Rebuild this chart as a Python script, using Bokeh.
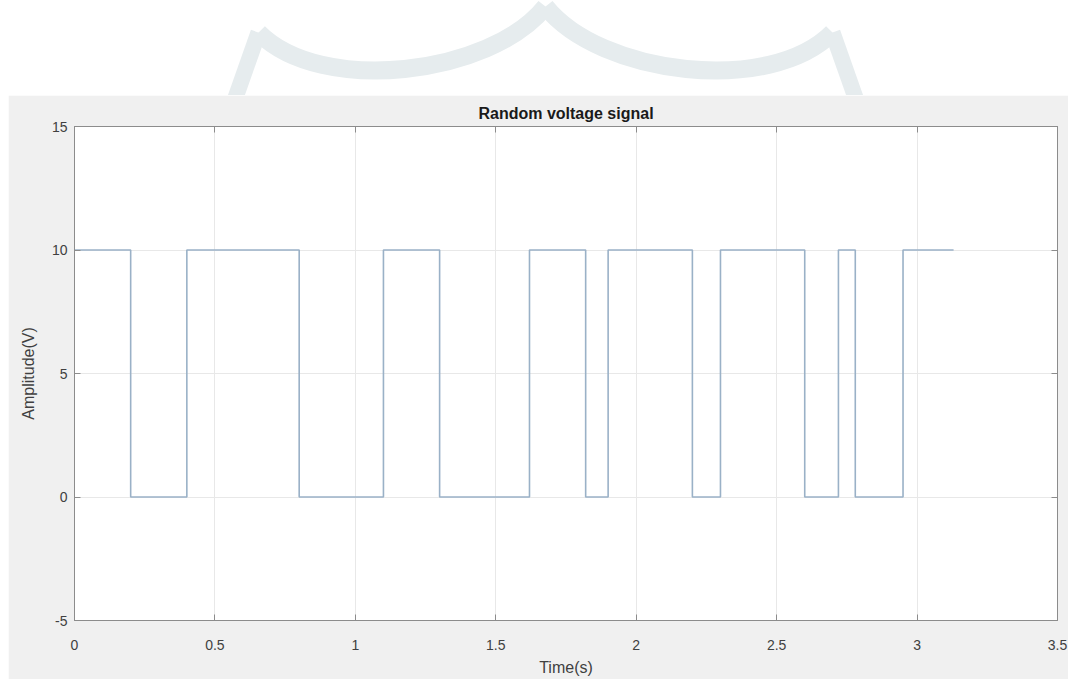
from bokeh.plotting import figure
from bokeh.models import Range1d, LinearAxis, FixedTicker, Spacer
from bokeh.layouts import column, row
from bokeh.embed import file_html
from bokeh.resources import INLINE

# Switching instants (s) and voltage level held after each instant (V)
switch_times = [0, 0.2, 0.4, 0.8, 1.1, 1.3, 1.62, 1.82, 1.9, 2.2, 2.3, 2.6, 2.72, 2.78, 2.95]
levels = [10, 0, 10, 0, 10, 0, 10, 0, 10, 0, 10, 0, 10, 0, 10]
end_time = 3.13

x_ticks = [0, 0.5, 1, 1.5, 2, 2.5, 3, 3.5]
y_ticks = [-5, 0, 5, 10, 15]

xs = list(switch_times) + [end_time]
ys = list(levels) + [levels[-1]]

FONT = "Liberation Sans"
AX = "#8c8c8c"
TXT = "#404040"

# --- decorative top strip (page background with faint watermark) ---
top = figure(width=1068, height=95, x_range=Range1d(0, 1068), y_range=Range1d(95, 0),
             toolbar_location=None, output_backend="svg", min_border=0)
top.axis.visible = False
top.grid.visible = False
top.outline_line_color = None
top.background_fill_color = "white"
top.border_fill_color = "white"
wm = "#e6ecee"
top.bezier(x0=[258, 545], y0=[32, 6], x1=[545, 832], y1=[6, 32],
           cx0=[320, 600], cy0=[95, 75], cx1=[490, 770], cy1=[75, 95],
           line_color=wm, line_width=18)
top.segment(x0=[258, 832], y0=[32, 32], x1=[234, 856], y1=[100, 100],
            line_color=wm, line_width=16)

# --- main axes ---
p = figure(width=1060, height=584, x_range=Range1d(0, 3.5), y_range=Range1d(-5, 15),
           toolbar_location=None, output_backend="svg",
           title="Random voltage signal",
           min_border_left=66, min_border_right=11, min_border_top=31, min_border_bottom=59)
p.background_fill_color = "white"
p.border_fill_color = "#f0f0f0"
p.outline_line_color = AX

p.title.align = "center"
p.title.text_font = FONT
p.title.text_font_size = "16px"
p.title.text_font_style = "bold"
p.title.text_color = "#1a1a1a"
p.title.standoff = 10

p.step(xs, ys, mode="after", line_color="#9ab1c7", line_width=1.6)

for ax in p.xaxis:
    ax.ticker = FixedTicker(ticks=x_ticks)
for ax in p.yaxis:
    ax.ticker = FixedTicker(ticks=y_ticks)
    ax.major_label_overrides = {-5: "-5"}

p.xaxis.axis_label = "Time(s)"
p.yaxis.axis_label = "Amplitude(V)"

for ax in p.xaxis + p.yaxis:
    ax.major_tick_in = 6
    ax.major_tick_out = 0
    ax.minor_tick_in = 0
    ax.minor_tick_out = 0
    ax.axis_line_color = AX
    ax.major_tick_line_color = AX
    ax.major_label_text_font = FONT
    ax.major_label_text_font_size = "14px"
    ax.major_label_text_color = TXT
    ax.axis_label_text_font = FONT
    ax.axis_label_text_font_size = "16px"
    ax.axis_label_text_font_style = "normal"
    ax.axis_label_text_color = TXT

p.xaxis.major_label_standoff = 19
p.xaxis.axis_label_standoff = 6
p.yaxis.major_label_standoff = 7
p.yaxis.axis_label_standoff = 12

for side in ("above", "right"):
    ax = LinearAxis(ticker=FixedTicker(ticks=x_ticks if side == "above" else y_ticks))
    ax.major_tick_in = 6
    ax.major_tick_out = 0
    ax.minor_tick_in = 0
    ax.minor_tick_out = 0
    ax.axis_line_color = AX
    ax.major_tick_line_color = AX
    ax.major_label_text_font_size = "1px"
    ax.major_label_text_color = None
    ax.major_label_standoff = 0
    p.add_layout(ax, side)

p.grid.grid_line_color = "#e8e8e8"
p.grid.grid_line_width = 1
for g in p.grid:
    g.ticker = FixedTicker(ticks=x_ticks if g.dimension == 0 else y_ticks)

layout = column(top, row(Spacer(width=8, height=584), p, spacing=0), spacing=0)
layout.margin = 0

open("out.html", "w").write(file_html(layout, INLINE))
